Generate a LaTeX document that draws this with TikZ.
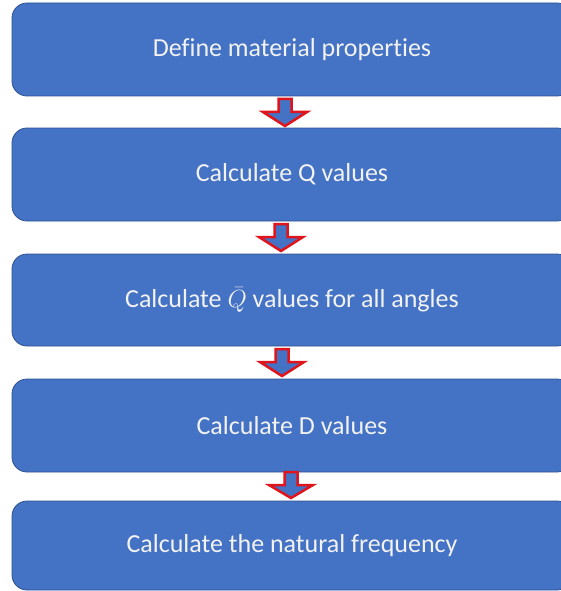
\documentclass[tikz,border=0pt]{standalone}
\usepackage{fontspec}
\setmainfont{Carlito}[Ligatures=CommonOff]
\begin{document}
\begin{tikzpicture}[x=1pt,y=-1pt,
  stepbox/.style={draw=boxline,line width=0.8pt,fill=boxblue,rounded corners=15pt},
  steptext/.style={text=boxtext,font=\fontsize{26}{30}\selectfont,anchor=center},
  blockarrow/.style={draw=arrowred,line width=2.5pt,fill=boxblue,line join=miter}]
\definecolor{boxblue}{HTML}{4472C4}
\definecolor{boxline}{HTML}{2F528F}
\definecolor{boxtext}{HTML}{F2F2F2}
\definecolor{arrowred}{HTML}{E0141B}
\useasboundingbox (0,0) rectangle (561,591);
\clip (0,0) rectangle (561,591);
% boxes
\draw[stepbox] (12,3) rectangle (572,96);
\draw[stepbox] (12,128) rectangle (572,221);
\draw[stepbox] (12,254) rectangle (572,346);
\draw[stepbox] (12,379) rectangle (572,472);
\draw[stepbox] (12,501) rectangle (572,590);
% texts
\node[steptext] (t1) at (292,49.5) {Define material properties};
\node[steptext] (t2) at (292,174.5) {Calculate Q values};
\node[steptext] (t3) at (292,300) {Calculate \(\bar{Q}\) values for all angles};
\node[steptext] (t4) at (292,425.5) {Calculate D values};
\node[steptext] (t5) at (292,546) {Calculate the natural frequency};
% block arrows
\newcommand\flowarrow[3]{%
  \draw[blockarrow] (#1-6.5,#2) -- (#1+6.5,#2) -- (#1+6.5,#2+13) -- (#1+22,#2+13)
    -- (#1,#3) -- (#1-22,#2+13) -- (#1-6.5,#2+13) -- cycle;}
\flowarrow{285}{99}{126}
\flowarrow{281}{224}{251}
\flowarrow{282}{349}{376}
\flowarrow{291}{472}{498}
\end{tikzpicture}
\end{document}
